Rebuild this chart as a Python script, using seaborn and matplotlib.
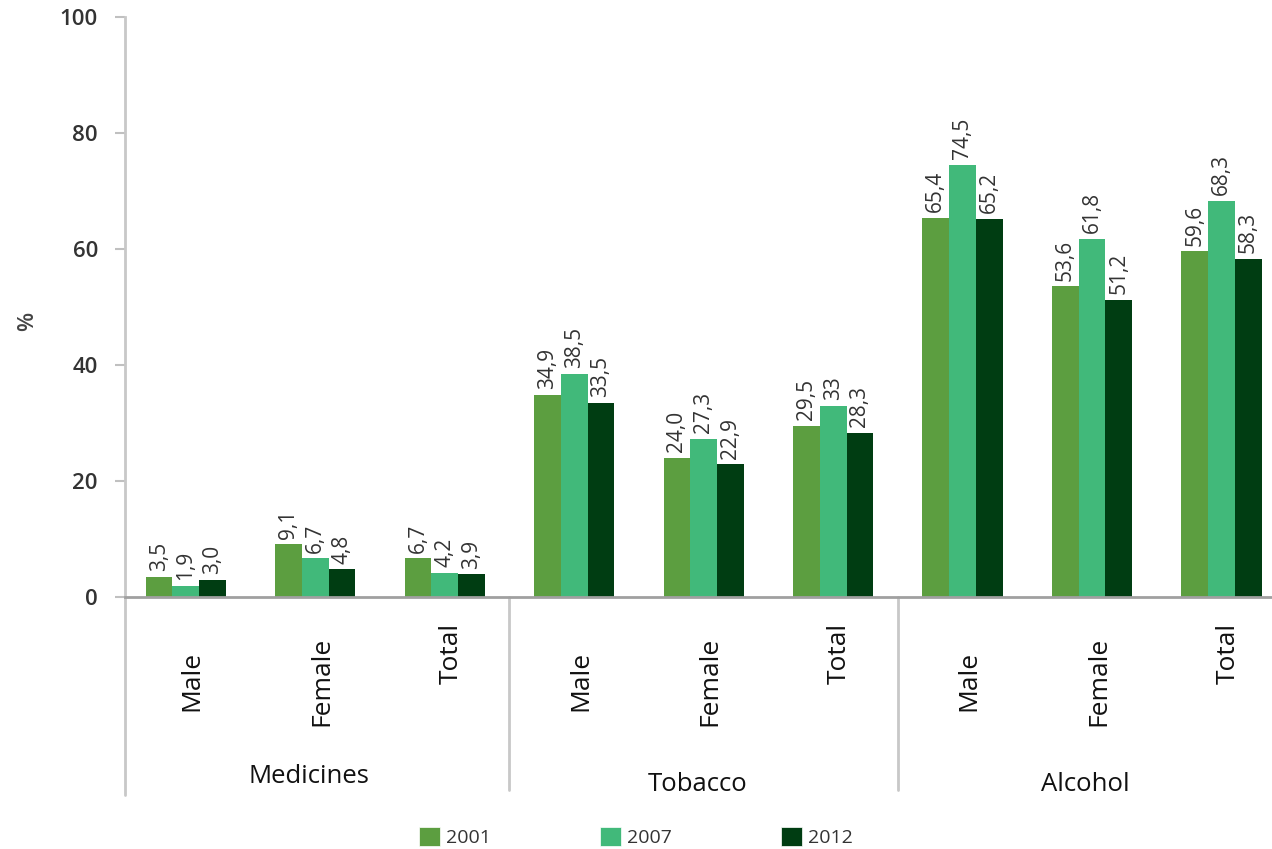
import matplotlib
matplotlib.use("Agg")
import matplotlib.pyplot as plt
import matplotlib.transforms as mtransforms
from matplotlib.patches import Patch
import pandas as pd
import seaborn as sns

# data
groups = ["Medicines", "Tobacco", "Alcohol"]
subs = ["Male", "Female", "Total"]
years = ["2001", "2007", "2012"]
v2001 = [3.5, 9.1, 6.7, 34.9, 24.0, 29.5, 65.4, 53.6, 59.6]
v2007 = [1.9, 6.7, 4.2, 38.5, 27.3, 33.0, 74.5, 61.8, 68.3]
v2012 = [3.0, 4.8, 3.9, 33.5, 22.9, 28.3, 65.2, 51.2, 58.3]
lab2001 = ["3,5", "9,1", "6,7", "34,9", "24,0", "29,5", "65,4", "53,6", "59,6"]
lab2007 = ["1,9", "6,7", "4,2", "38,5", "27,3", "33", "74,5", "61,8", "68,3"]
lab2012 = ["3,0", "4,8", "3,9", "33,5", "22,9", "28,3", "65,2", "51,2", "58,3"]
colors = ["#5c9e40", "#41b97a", "#003d12"]

keys = [g + "|" + s for g in groups for s in subs]
rows = []
for yr, vals in zip(years, [v2001, v2007, v2012]):
    for k, v in zip(keys, vals):
        rows.append({"cat": k, "year": yr, "value": v})
df = pd.DataFrame(rows)

sns.set_style("white")
plt.rcParams["font.family"] = ["Open Sans", "DejaVu Sans"]

fig = plt.figure(figsize=(12.72, 8.49), dpi=100)
ax = fig.add_axes([125 / 1272, 1 - 597 / 849, 1 - 125 / 1272, 580 / 849])

sns.barplot(data=df, x="cat", y="value", hue="year", order=keys,
            palette=colors, width=0.62, saturation=1, ax=ax, legend=False,
            linewidth=0)

for cont, labs in zip(ax.containers, [lab2001, lab2007, lab2012]):
    ax.bar_label(cont, labels=labs, rotation=90, padding=4,
                 fontsize=15, color="#333333")

ax.set_ylim(0, 100)
ax.set_xlim(-0.47, 8.39)
ax.set_yticks([0, 20, 40, 60, 80, 100])
ax.tick_params(axis="y", left=True, length=7.5, width=1.5, color="#c0c0c0",
               labelsize=16, labelcolor="#333333", pad=12)
for t in ax.get_yticklabels():
    t.set_fontweight("semibold")
ax.set_xticks([])
ax.set_xlabel("")
ax.set_ylabel("%", fontsize=16, color="#444444", fontweight="semibold")
ax.yaxis.set_label_coords(-0.076, 0.475)

for s in ["top", "right"]:
    ax.spines[s].set_visible(False)
ax.spines["left"].set_color("#c8c8c8")
ax.spines["left"].set_linewidth(2)
ax.spines["bottom"].set_color("#a0a0a0")
ax.spines["bottom"].set_linewidth(2)

trans = mtransforms.blended_transform_factory(ax.transData, ax.transAxes)
# left spine extension and group separators
ax.plot([0, 0], [0, -0.341], transform=ax.transAxes, color="#c8c8c8",
        lw=2, clip_on=False)
for xs in [2.5, 5.5]:
    ax.plot([xs, xs], [0, -0.333], transform=trans, color="#c8c8c8",
            lw=2, clip_on=False)

# category labels
for i, k in enumerate(keys):
    s = k.split("|")[1]
    yc = -0.097 if s == "Total" else -0.145
    ax.text(i + 0.05, yc, s, rotation=90, ha="center", va="center",
            fontsize=19, color="#111111", transform=trans)

# group labels
for j, g in enumerate(groups):
    yc = -0.31 if j == 0 else -0.323
    ax.text(3 * j + 1 - 0.05, yc, g, ha="center", va="center",
            fontsize=18.5, color="#111111", transform=trans)

handles = [Patch(facecolor=c, edgecolor="white", linewidth=0.5) for c in colors]
fig.legend(handles, years, loc="center", bbox_to_anchor=(0.5, 1 - 837 / 849),
           ncol=3, frameon=False, fontsize=14, handlelength=1.1,
           handleheight=1.1, handletextpad=0.3, columnspacing=5.6,
           labelcolor="#333333")

fig.savefig("out.png", dpi=100)
